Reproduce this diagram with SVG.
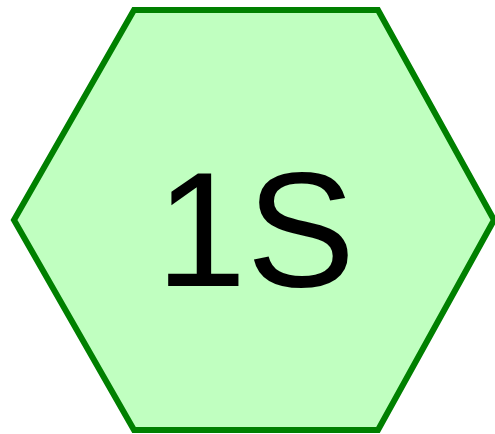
<svg xmlns="http://www.w3.org/2000/svg" width="495" height="434" viewBox="0 0 495 434">
<style>
.hex{fill:#c0ffc0;stroke:#008000;stroke-width:6;stroke-linejoin:miter}
.lbl{font-family:"Liberation Sans",Arial,sans-serif;font-size:163px;fill:#000;text-anchor:middle}
</style>
<rect width="495" height="434" fill="#ffffff"/>
<g id="node-1S">
<polygon class="hex" points="134,10 378,10 494,220 378,430 134,430 14,220"/>
<text class="lbl" x="255.5" y="286">1S</text>
</g>
<g id="connectors"></g>
</svg>
